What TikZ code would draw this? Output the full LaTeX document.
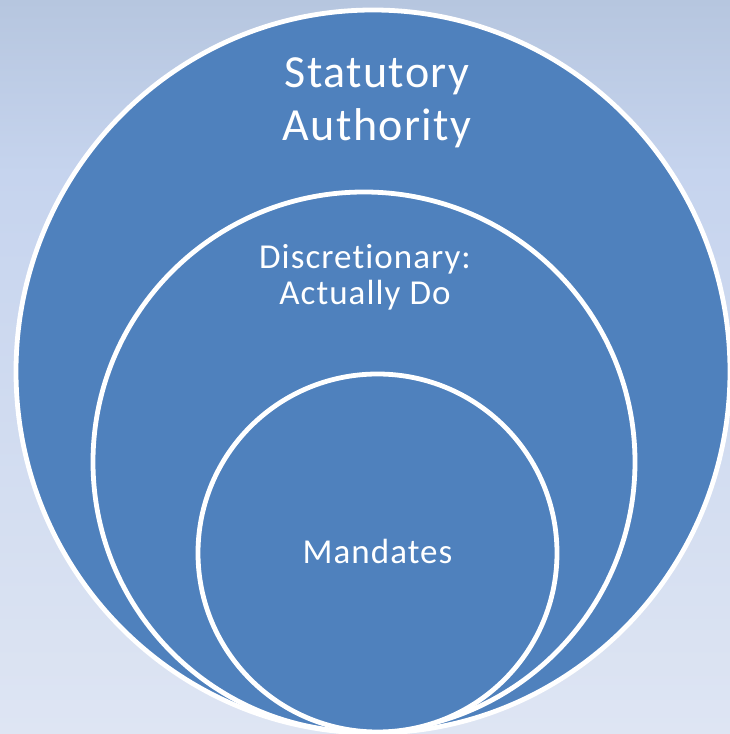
\documentclass[tikz,border=0pt]{standalone}
\usepackage{fontspec}
\setmainfont{Carlito}[Ligatures=NoCommon,LetterSpace=3]
\usetikzlibrary{shapes.geometric}
\definecolor{ringblue}{HTML}{4F81BD}
\definecolor{bgtop}{HTML}{B6C6DF}
\definecolor{bgmid}{HTML}{C6D4EE}
\definecolor{bgbot}{HTML}{DEE5F3}

\begin{document}
\begin{tikzpicture}[x=1pt,y=1pt,
  ring/.style={ellipse,draw=white,line width=4.8pt,fill=ringblue,inner sep=0pt},
  ringtext/.style={text=white,align=center,inner sep=0pt}]
\useasboundingbox (0,0) rectangle (730,734);
% background
\shade[top color=bgtop,bottom color=bgmid] (0,560) rectangle (730,734);
\shade[top color=bgmid,bottom color=bgbot] (0,0) rectangle (730,560);
% the three rings, all touching at the bottom
\node[ring,minimum width=714pt,minimum height=723pt] (statutory) at (373,362.5) {};
\node[ring,minimum width=542pt,minimum height=540pt] (discretionary) at (364,272) {};
\node[ring,minimum width=359pt,minimum height=358pt] (mandates) at (377.5,181) {};
% texts
\node[ringtext,font=\fontsize{46}{53}\selectfont] (statutorytext) at (377,631) {Statutory\\Authority};
\node[ringtext,font=\fontsize{35}{36}\selectfont] (discretionarytext) at (365,457) {Discretionary:\\Actually Do};
\node[ringtext,font=\fontsize{35}{40}\selectfont] (mandatestext) at (377.5,182.5) {Mandates};
\end{tikzpicture}
\end{document}
